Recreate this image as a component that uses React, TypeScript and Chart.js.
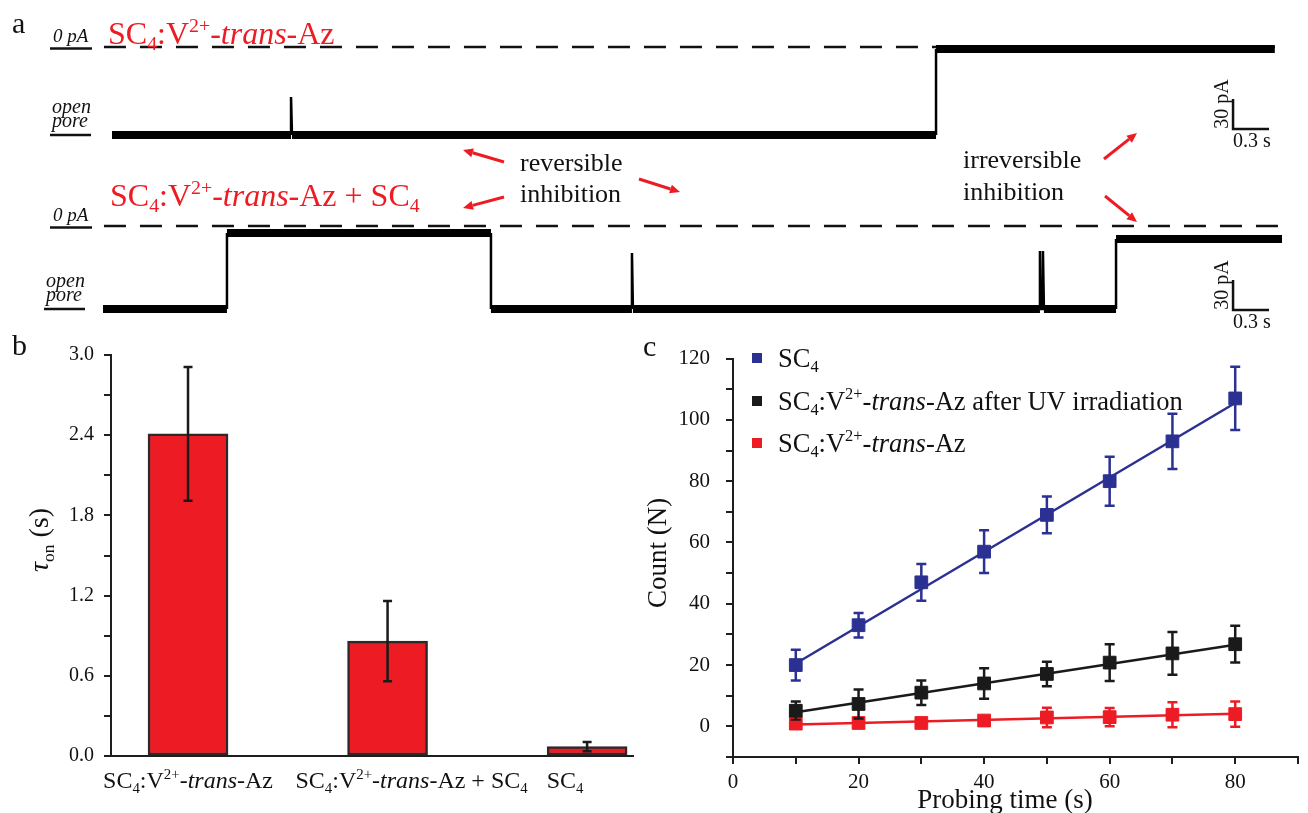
import React, { useEffect, useRef } from "react";
import { Chart, registerables } from "chart.js";

Chart.register(...registerables);

type Seg = { t: string; k?: "i" | "sub" | "sup" };

const FAM = '"Liberation Serif", "Times New Roman", Times, serif';
const INK = "#111111";
const AX = "#1e1e1e";
const RED = "#ED1C24";
const BLUE = "#2B3192";
const BLACK = "#1a1a1a";

// ---------- text labels ----------
const LBL_COMPLEX: Seg[] = [
  { t: "SC" }, { t: "4", k: "sub" }, { t: ":V" }, { t: "2+", k: "sup" },
  { t: "-" }, { t: "trans", k: "i" }, { t: "-Az" },
];
const LBL_COMPLEX_PLUS_SC4: Seg[] = [...LBL_COMPLEX, { t: " + SC" }, { t: "4", k: "sub" }];
const LBL_SC4: Seg[] = [{ t: "SC" }, { t: "4", k: "sub" }];
const LBL_UV: Seg[] = [...LBL_COMPLEX, { t: " after UV irradiation" }];
const LBL_TAU: Seg[] = [{ t: "τ", k: "i" }, { t: "on", k: "sub" }, { t: " (s)" }];

// ---------- panel a : current traces (time in s, current in pA) ----------
const TOP_TIME_S = [0, 1.492, 1.492, 1.5, 6.867, 6.867, 9.69];
const TOP_CURRENT_PA = [-88, -88, -50, -88, -88, -2, -2];
const TOP_ZERO_TIME_S = [-0.067, 9.69];
const BOTTOM_TIME_S = [-0.075, 0.958, 0.958, 3.158, 3.158, 4.333, 4.333, 4.341, 7.733, 7.733, 7.741, 7.758, 7.758, 7.766, 8.367, 8.367, 9.75];
const BOTTOM_CURRENT_PA = [-83, -83, -7, -7, -83, -83, -27, -83, -83, -25, -83, -83, -25, -83, -83, -13, -13];
const BOTTOM_ZERO_TIME_S = [-0.067, 9.73];
const SCALE_BAR_PA = 30;
const SCALE_BAR_S = 0.3;

// ---------- panel b ----------
const B_CATEGORIES: Seg[][] = [LBL_COMPLEX, LBL_COMPLEX_PLUS_SC4, LBL_SC4];
const B_POSITIONS = [1, 2, 3];
const B_TAU_ON_S = [2.41, 0.86, 0.07];
const B_TAU_ERR_S = [0.5, 0.3, 0.035];

// ---------- panel c ----------
const C_TIME_S = [10, 20, 30, 40, 50, 60, 70, 80];
const C_SC4 = [20, 33, 47, 57, 69, 80, 93, 107];
const C_SC4_ERR = [5, 4, 6, 7, 6, 8, 9, 10.3];
const C_UV = [5.1, 7.3, 11, 14, 17.1, 20.8, 23.8, 26.8];
const C_UV_ERR = [3, 4.7, 4, 5, 4, 6, 7, 6];
const C_TRANS = [0.9, 1.1, 1.1, 1.9, 2.9, 3.0, 3.8, 4.0];
const C_TRANS_ERR = [0.5, 0.5, 0.5, 1.2, 3.2, 3, 4.1, 4.1];
const C_FIT_TIME_S = [10, 80];
const C_SC4_FIT = [20.5, 105.5];
const C_UV_FIT = [4.6, 26.6];
const C_TRANS_FIT = [0.6, 4.1];

// ---------- text helpers ----------
function segFont(s: Seg, size: number, italic = false) {
  const small = s.k === "sub" || s.k === "sup";
  const sz = small ? size * 0.62 : size;
  const it = s.k === "i" || italic ? "italic " : "";
  return `${it}${sz}px ${FAM}`;
}
function segDy(s: Seg, size: number) {
  if (s.k === "sub") return size * 0.2;
  if (s.k === "sup") return -size * 0.38;
  return 0;
}
function richWidth(ctx: CanvasRenderingContext2D, segs: Seg[], size: number) {
  let w = 0;
  for (const s of segs) {
    ctx.font = segFont(s, size);
    w += ctx.measureText(s.t).width;
  }
  return w;
}
function drawRich(ctx: CanvasRenderingContext2D, segs: Seg[], x: number, y: number, size: number, color: string, align: "left" | "center" | "right" = "left") {
  const w = richWidth(ctx, segs, size);
  let cx = align === "center" ? x - w / 2 : align === "right" ? x - w : x;
  ctx.save();
  ctx.fillStyle = color;
  ctx.textAlign = "left";
  ctx.textBaseline = "alphabetic";
  for (const s of segs) {
    ctx.font = segFont(s, size);
    ctx.fillText(s.t, cx, y + segDy(s, size));
    cx += ctx.measureText(s.t).width;
  }
  ctx.restore();
}
function text(ctx: CanvasRenderingContext2D, t: string, x: number, y: number, font: string, color: string, align: CanvasTextAlign = "left") {
  ctx.save();
  ctx.font = font;
  ctx.fillStyle = color;
  ctx.textAlign = align;
  ctx.textBaseline = "alphabetic";
  ctx.fillText(t, x, y);
  ctx.restore();
}
function hline(ctx: CanvasRenderingContext2D, x0: number, x1: number, y: number, w: number, color = INK) {
  ctx.save();
  ctx.strokeStyle = color;
  ctx.lineWidth = w;
  ctx.beginPath();
  ctx.moveTo(x0, y);
  ctx.lineTo(x1, y);
  ctx.stroke();
  ctx.restore();
}
function arrow(ctx: CanvasRenderingContext2D, x0: number, y0: number, x1: number, y1: number) {
  const a = Math.atan2(y1 - y0, x1 - x0);
  const L = 10, W = 4.5;
  const c = Math.cos(a), s = Math.sin(a);
  ctx.save();
  ctx.strokeStyle = RED;
  ctx.fillStyle = RED;
  ctx.lineWidth = 3;
  ctx.beginPath();
  ctx.moveTo(x0, y0);
  ctx.lineTo(x1 - L * c, y1 - L * s);
  ctx.stroke();
  ctx.beginPath();
  ctx.moveTo(x1, y1);
  ctx.lineTo(x1 - L * c + W * s, y1 - L * s - W * c);
  ctx.lineTo(x1 - L * c - W * s, y1 - L * s + W * c);
  ctx.closePath();
  ctx.fill();
  ctx.restore();
}
function levelLabels(ctx: CanvasRenderingContext2D, xZero: number, xOpen: number, y0: number, yOpen: number) {
  text(ctx, "0 pA", xZero + 1, y0 - 5, `italic 19px ${FAM}`, INK);
  hline(ctx, xZero - 2, xZero + 40, y0 + 1.5, 2.5);
  text(ctx, "open", xOpen, yOpen - 22, `italic 20px ${FAM}`, INK);
  text(ctx, "pore", xOpen, yOpen - 8, `italic 20px ${FAM}`, INK);
  hline(ctx, xOpen - 2, xOpen + 39, yOpen, 2.5);
}
function scaleBar(ctx: CanvasRenderingContext2D, xs: any, ys: any, t0: number, v0: number) {
  const px0 = xs.getPixelForValue(t0);
  const px1 = xs.getPixelForValue(t0 + SCALE_BAR_S);
  const py0 = ys.getPixelForValue(v0);
  const py1 = ys.getPixelForValue(v0 + SCALE_BAR_PA);
  ctx.save();
  ctx.strokeStyle = INK;
  ctx.lineWidth = 2.5;
  ctx.beginPath();
  ctx.moveTo(px0, py1);
  ctx.lineTo(px0, py0);
  ctx.lineTo(px1, py0);
  ctx.stroke();
  ctx.restore();
  text(ctx, `${SCALE_BAR_S} s`, px0, py0 + 18, `20px ${FAM}`, INK);
  ctx.save();
  ctx.translate(px0 - 5, (py0 + py1) / 2 - 10);
  ctx.rotate(-Math.PI / 2);
  text(ctx, `${SCALE_BAR_PA} pA`, 0, 0, `20px ${FAM}`, INK, "center");
  ctx.restore();
}

// ---------- chart configs ----------
function traceConfig(time: number[], current: number[], zero: number[], yMin: number, yMax: number, pad: any, draw: (c: any) => void): any {
  return {
    type: "line",
    data: {
      datasets: [
        {
          data: time.map((x, i) => ({ x, y: current[i] })),
          borderColor: "#000",
          borderWidth: 8,
          pointRadius: 0,
          tension: 0,
          borderCapStyle: "butt",
          borderJoinStyle: "miter",
          clip: false,
          segment: {
            borderWidth: (c: any) => (Math.abs(c.p1.parsed.x - c.p0.parsed.x) < 0.05 ? 2.5 : 8),
          },
        },
        {
          data: zero.map((x) => ({ x, y: 0 })),
          borderColor: INK,
          borderWidth: 2.5,
          borderDash: [22, 14],
          pointRadius: 0,
          clip: false,
        },
      ],
    },
    options: {
      responsive: false,
      animation: false,
      devicePixelRatio: 1,
      events: [],
      layout: { padding: pad },
      plugins: { legend: { display: false }, tooltip: { enabled: false } },
      scales: {
        x: { type: "linear", display: false, min: -0.1, max: 9.9 },
        y: { type: "linear", display: false, min: yMin, max: yMax },
      },
    },
    plugins: [{ id: "annot", afterDraw: (chart: any) => draw(chart) }],
  };
}

function drawTop(chart: any) {
  const ctx: CanvasRenderingContext2D = chart.ctx;
  const xs = chart.scales.x, ys = chart.scales.y;
  text(ctx, "a", 12, 33, `30px ${FAM}`, INK);
  drawRich(ctx, LBL_COMPLEX, 108, 44, 32, RED);
  levelLabels(ctx, 52, 52, ys.getPixelForValue(0), ys.getPixelForValue(TOP_CURRENT_PA[0]));
  scaleBar(ctx, xs, ys, 9.342, -82);
  text(ctx, "reversible", 520, 171, `26px ${FAM}`, INK);
  text(ctx, "inhibition", 520, 202, `26px ${FAM}`, INK);
  text(ctx, "irreversible", 963, 168, `26px ${FAM}`, INK);
  text(ctx, "inhibition", 963, 200, `26px ${FAM}`, INK);
  arrow(ctx, 504, 162, 463, 150);
  arrow(ctx, 504, 197, 463, 208);
  arrow(ctx, 639, 179, 680, 192);
  arrow(ctx, 1104, 159, 1137, 133);
  arrow(ctx, 1105, 196, 1137, 222);
}

function drawBottom(chart: any) {
  const ctx: CanvasRenderingContext2D = chart.ctx;
  const xs = chart.scales.x, ys = chart.scales.y;
  drawRich(ctx, LBL_COMPLEX_PLUS_SC4, 110, 26, 32, RED);
  levelLabels(ctx, 52, 46, ys.getPixelForValue(0), ys.getPixelForValue(BOTTOM_CURRENT_PA[0]));
  scaleBar(ctx, xs, ys, 9.342, -84);
}

// horizontal nudges of the category labels relative to the bar centres (layout only)
const B_LABEL_NUDGE_PX = [0, 24, -22];

const panelBPlugin = {
  id: "panelB",
  afterDatasetsDraw(chart: any) {
    const ctx: CanvasRenderingContext2D = chart.ctx;
    const xs = chart.scales.x, ys = chart.scales.y;
    ctx.save();
    ctx.strokeStyle = BLACK;
    ctx.lineWidth = 2.5;
    B_POSITIONS.forEach((p, i) => {
      const x = xs.getPixelForValue(p);
      const yt = ys.getPixelForValue(B_TAU_ON_S[i] + B_TAU_ERR_S[i]);
      const yb = ys.getPixelForValue(B_TAU_ON_S[i] - B_TAU_ERR_S[i]);
      ctx.beginPath();
      ctx.moveTo(x, yt); ctx.lineTo(x, yb);
      ctx.moveTo(x - 4.5, yt); ctx.lineTo(x + 4.5, yt);
      ctx.moveTo(x - 4.5, yb); ctx.lineTo(x + 4.5, yb);
      ctx.stroke();
    });
    ctx.restore();
    B_POSITIONS.forEach((p, i) => {
      drawRich(ctx, B_CATEGORIES[i], xs.getPixelForValue(p) + B_LABEL_NUDGE_PX[i], xs.top + 32, 24, INK, "center");
    });
    text(ctx, "b", 12, 25, `30px ${FAM}`, INK);
    ctx.save();
    ctx.translate(48, 210);
    ctx.rotate(-Math.PI / 2);
    drawRich(ctx, LBL_TAU, 0, 0, 28, INK, "center");
    ctx.restore();
  },
};

const C_SERIES = [
  { values: C_SC4, err: C_SC4_ERR, fit: C_SC4_FIT, color: BLUE, label: LBL_SC4 },
  { values: C_UV, err: C_UV_ERR, fit: C_UV_FIT, color: BLACK, label: LBL_UV },
  { values: C_TRANS, err: C_TRANS_ERR, fit: C_TRANS_FIT, color: RED, label: LBL_COMPLEX },
];

const panelCPlugin = {
  id: "panelC",
  afterDatasetsDraw(chart: any) {
    const ctx: CanvasRenderingContext2D = chart.ctx;
    const xs = chart.scales.x, ys = chart.scales.y;
    ctx.save();
    ctx.lineWidth = 2.5;
    C_SERIES.forEach((s) => {
      ctx.strokeStyle = s.color;
      s.values.forEach((v, i) => {
        const x = xs.getPixelForValue(C_TIME_S[i]);
        const yt = ys.getPixelForValue(v + s.err[i]);
        const yb = ys.getPixelForValue(v - s.err[i]);
        ctx.beginPath();
        ctx.moveTo(x, yt); ctx.lineTo(x, yb);
        ctx.moveTo(x - 5, yt); ctx.lineTo(x + 5, yt);
        ctx.moveTo(x - 5, yb); ctx.lineTo(x + 5, yb);
        ctx.stroke();
      });
    });
    ctx.restore();
    // legend
    const rows = [28, 71, 113];
    C_SERIES.forEach((s, i) => {
      ctx.save();
      ctx.fillStyle = s.color;
      ctx.fillRect(112, rows[i] - 5, 10, 10);
      ctx.restore();
      drawRich(ctx, s.label, 138, rows[i] + 8.5, 26.5, INK);
    });
    text(ctx, "c", 3, 26, `30px ${FAM}`, INK);
    text(ctx, "Probing time (s)", 365, 478, `27px ${FAM}`, INK, "center");
    ctx.save();
    ctx.translate(26, 223);
    ctx.rotate(-Math.PI / 2);
    text(ctx, "Count (N)", 0, 0, `27px ${FAM}`, INK, "center");
    ctx.restore();
  },
};

function panelBConfig(): any {
  return {
    type: "bar",
    data: {
      datasets: [
        {
          data: B_POSITIONS.map((x, i) => ({ x, y: B_TAU_ON_S[i] })),
          backgroundColor: RED,
          borderColor: "#2a2a2a",
          borderWidth: 2.5,
          borderSkipped: false,
          barThickness: 80,
        },
      ],
    },
    options: {
      responsive: false,
      animation: false,
      devicePixelRatio: 1,
      events: [],
      layout: { padding: { top: 25, right: 7, left: 0, bottom: 0 } },
      plugins: { legend: { display: false }, tooltip: { enabled: false } },
      scales: {
        x: {
          type: "linear",
          offset: false,
          min: 0.614,
          max: 3.23,
          grid: { display: false, offset: false },
          border: { display: true, color: AX, width: 2 },
          ticks: { display: false },
          afterFit: (s: any) => { s.height = 57; },
        },
        y: {
          type: "linear",
          min: 0,
          max: 3,
          ticks: {
            stepSize: 0.3,
            autoSkip: false,
            font: { family: FAM, size: 20 },
            color: INK,
            padding: 10,
            callback: (v: number) => (Math.round(v * 10) % 6 === 0 ? v.toFixed(1) : ""),
          },
          grid: { drawOnChartArea: false, drawTicks: true, tickLength: 7, color: AX, lineWidth: 2 },
          border: { color: AX, width: 2 },
          afterFit: (s: any) => { s.width = 111; },
        },
      },
    },
    plugins: [panelBPlugin],
  };
}

function panelCConfig(): any {
  const markers = C_SERIES.map((s) => ({
    data: C_TIME_S.map((x, i) => ({ x, y: s.values[i] })),
    showLine: false,
    pointStyle: "rect",
    pointRadius: 9,
    pointBackgroundColor: s.color,
    pointBorderColor: s.color,
    pointBorderWidth: 1,
  }));
  const fits = C_SERIES.map((s) => ({
    data: C_FIT_TIME_S.map((x, i) => ({ x, y: s.fit[i] })),
    showLine: true,
    pointRadius: 0,
    borderColor: s.color,
    borderWidth: 2.5,
  }));
  return {
    type: "scatter",
    data: { datasets: [...markers, ...fits] },
    options: {
      responsive: false,
      animation: false,
      devicePixelRatio: 1,
      events: [],
      layout: { padding: { top: 25, right: 0, left: 0, bottom: 0 } },
      plugins: { legend: { display: false }, tooltip: { enabled: false } },
      scales: {
        x: {
          type: "linear",
          min: 0,
          max: 90,
          ticks: {
            stepSize: 10,
            autoSkip: false,
            maxRotation: 0,
            font: { family: FAM, size: 21 },
            color: INK,
            padding: 6,
            callback: (v: number) => (v % 20 === 0 ? String(v) : ""),
          },
          grid: { drawOnChartArea: false, drawTicks: true, tickLength: 7, color: AX, lineWidth: 2 },
          border: { color: AX, width: 2 },
          afterFit: (s: any) => { s.height = 56; },
        },
        y: {
          type: "linear",
          min: -10,
          max: 120,
          ticks: {
            stepSize: 10,
            autoSkip: false,
            font: { family: FAM, size: 21 },
            color: INK,
            padding: 16,
            callback: (v: number) => (v % 20 === 0 && v >= 0 ? String(v) : ""),
          },
          grid: { drawOnChartArea: false, drawTicks: true, tickLength: 7, color: AX, lineWidth: 2 },
          border: { color: AX, width: 2 },
          afterFit: (s: any) => { s.width = 93; },
        },
      },
    },
    plugins: [panelCPlugin],
  };
}

export default function App() {
  const aTop = useRef<HTMLCanvasElement>(null);
  const aBot = useRef<HTMLCanvasElement>(null);
  const bRef = useRef<HTMLCanvasElement>(null);
  const cRef = useRef<HTMLCanvasElement>(null);

  useEffect(() => {
    const charts = [
      new Chart(aTop.current!, traceConfig(TOP_TIME_S, TOP_CURRENT_PA, TOP_ZERO_TIME_S, -163, 27, { left: 100, right: 8, top: 20, bottom: 20 }, drawTop)),
      new Chart(aBot.current!, traceConfig(BOTTOM_TIME_S, BOTTOM_CURRENT_PA, BOTTOM_ZERO_TIME_S, -104, 36, { left: 100, right: 8, top: 10, bottom: 10 }, drawBottom)),
      new Chart(bRef.current!, panelBConfig()),
      new Chart(cRef.current!, panelCConfig()),
    ];
    return () => charts.forEach((c) => c.destroy());
  }, []);

  return (
    <div style={{ position: "absolute", left: 0, top: 0, width: 1308, height: 813, background: "#fff", overflow: "hidden" }}>
      <canvas ref={aTop} width={1308} height={230} style={{ position: "absolute", left: 0, top: 0 }} />
      <canvas ref={aBot} width={1308} height={160} style={{ position: "absolute", left: 0, top: 180 }} />
      <canvas ref={bRef} width={640} height={483} style={{ position: "absolute", left: 0, top: 330 }} />
      <canvas ref={cRef} width={668} height={483} style={{ position: "absolute", left: 640, top: 330 }} />
    </div>
  );
}
